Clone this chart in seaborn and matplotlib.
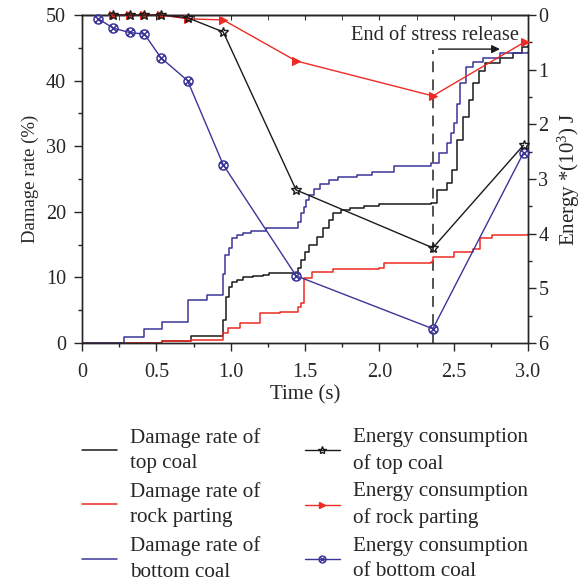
import numpy as np
import pandas as pd
import matplotlib
matplotlib.use("Agg")
import matplotlib.pyplot as plt
import seaborn as sns
from matplotlib.path import Path
from matplotlib.lines import Line2D

# ---------------- data ----------------
# damage rate step curves (time s, damage %)
top_t = [0, 0.54, 0.73, 0.95, 0.97, 0.99, 1.01, 1.04, 1.08, 1.15, 1.22, 1.26, 1.45, 1.47, 1.50, 1.53,
         1.58, 1.62, 1.66, 1.69, 1.74, 1.80, 1.90, 2.00, 2.35, 2.39, 2.455, 2.49, 2.52, 2.56, 2.60,
         2.63, 2.67, 2.71, 2.81, 2.90, 2.96, 3.0]
top_d = [0, 0.3, 1.0, 3.5, 7.0, 8.5, 9.3, 9.6, 10.0, 10.2, 10.4, 10.7, 11.5, 12.7, 13.8, 15.0,
         16.2, 17.5, 18.8, 19.8, 20.3, 20.6, 20.9, 21.2, 21.3, 23.3, 24.4, 26.4, 31.0, 34.5, 37.0,
         39.6, 41.5, 42.7, 43.4, 44.2, 45.1, 45.3]
rock_t = [0, 0.54, 0.73, 0.95, 0.98, 1.06, 1.20, 1.33, 1.45, 1.47, 1.49, 1.55, 1.69, 2.00, 2.03,
          2.35, 2.36, 2.50, 2.63, 2.68, 2.76, 3.0]
rock_d = [0, 0.3, 0.45, 1.5, 2.3, 3.0, 4.5, 4.7, 5.5, 6.1, 9.9, 10.8, 11.3, 11.4, 12.2,
          12.3, 13.1, 13.9, 14.3, 16.0, 16.5, 16.6]
bottom_t = [0, 0.28, 0.42, 0.54, 0.71, 0.84, 0.95, 0.96, 0.99, 1.01, 1.04, 1.08, 1.14, 1.24, 1.45,
            1.47, 1.49, 1.51, 1.53, 1.56, 1.60, 1.66, 1.72, 1.85, 1.95, 2.10, 2.35, 2.40, 2.455,
            2.48, 2.50, 2.52, 2.54, 2.58, 2.63, 2.70, 2.81, 3.0]
bottom_d = [0, 0.9, 2.1, 3.2, 6.5, 7.3, 10.5, 13.4, 14.5, 16.0, 16.5, 16.8, 17.0, 17.5, 18.5,
            19.8, 20.8, 21.8, 22.6, 23.5, 24.3, 24.8, 25.3, 25.6, 26.0, 27.0, 27.4, 29.0, 30.5,
            32.0, 33.5, 36.5, 39.6, 42.0, 42.8, 43.5, 44.2, 44.3]

# energy consumption (time s, energy 10^3 J)
e_top_t = [0.21, 0.32, 0.42, 0.53, 0.71, 0.95, 1.44, 2.36, 2.97]
e_top = [0.0, 0.0, 0.0, 0.0, 0.05, 0.31, 3.20, 4.26, 2.38]
e_rock_t = [0.21, 0.32, 0.42, 0.53, 0.71, 0.95, 1.44, 2.36, 2.98]
e_rock = [0.0, 0.0, 0.0, 0.0, 0.07, 0.09, 0.84, 1.48, 0.49]
e_bottom_t = [0.11, 0.21, 0.32, 0.42, 0.53, 0.71, 0.95, 1.44, 2.36, 2.97]
e_bottom = [0.07, 0.24, 0.32, 0.35, 0.78, 1.20, 2.74, 4.77, 5.74, 2.52]

labels = ["Damage rate of\ntop coal", "Damage rate of\nrock parting", "Damage rate of\nbottom coal",
          "Energy consumption\nof top coal", "Energy consumption\nof rock parting",
          "Energy consumption\nof bottom coal"]

# ---------------- style ----------------
sns.set_style("ticks")
plt.rcParams["font.family"] = ["Liberation Serif", "DejaVu Serif"]
plt.rcParams["mathtext.default"] = "regular"
plt.rcParams["axes.linewidth"] = 1.0

BLACK = "#1a1a1a"
RED = "#ee2b24"
BLUE = "#3b3598"

# circled-x marker
circ = Path.unit_circle()
cross = Path([(-0.7, -0.7), (0.7, 0.7), (-0.7, 0.7), (0.7, -0.7)],
             [Path.MOVETO, Path.LINETO, Path.MOVETO, Path.LINETO])
otimes = Path.make_compound_path(circ, cross)

fig = plt.figure(figsize=(5.87, 5.87), dpi=100)
ax = fig.add_axes([82 / 587, 1 - 343 / 587, 446 / 587, 328 / 587])

sns.lineplot(x=top_t, y=top_d, drawstyle="steps-post", color=BLACK, lw=1.1, ax=ax, estimator=None, sort=False)
sns.lineplot(x=rock_t, y=rock_d, drawstyle="steps-post", color=RED, lw=1.1, ax=ax, estimator=None, sort=False)
sns.lineplot(x=bottom_t, y=bottom_d, drawstyle="steps-post", color=BLUE, lw=1.1, ax=ax, estimator=None, sort=False)

TICK_FS = 14.5
ax.set_xlim(0, 3.0)
ax.set_ylim(0, 50)
ax.set_xticks(np.arange(0, 3.01, 0.5))
ax.set_xticklabels(["0", "0.5", "1.0", "1.5", "2.0", "2.5", "3.0"])
ax.set_xticks(np.arange(0.25, 3.0, 0.5), minor=True)
ax.set_yticks(np.arange(0, 51, 10))
ax.set_yticks(np.arange(5, 50, 10), minor=True)
ax.tick_params(axis="both", which="major", direction="out", length=5.5, width=1.0, labelsize=TICK_FS)
ax.tick_params(axis="x", which="major", pad=9)
ax.tick_params(axis="y", which="major", pad=6)
ax.tick_params(axis="both", which="minor", direction="out", length=3, width=1.0)
ax.set_xlabel("Time (s)", fontsize=15, labelpad=2)
ax.set_ylabel("Damage rate (%)", fontsize=13.5, labelpad=5)

# top spine ticks (inward)
secx = ax.secondary_xaxis("top")
secx.set_xticks(np.arange(0, 3.01, 0.5))
secx.set_xticks(np.arange(0.25, 3.0, 0.5), minor=True)
secx.tick_params(which="both", direction="in", length=3.5, labeltop=False)

# dashed line and annotation
ax.vlines(2.36, 0, 44.7, colors="#444444", linestyles=(0, (6, 4)), lw=1.3, zorder=1)
ax.annotate("", xy=(2.83, 44.8), xytext=(2.38, 44.8),
            arrowprops=dict(arrowstyle="-|>", color=BLACK, lw=1.0, mutation_scale=12))
ax.text(2.94, 46.9, "End of stress release", ha="right", va="center", fontsize=14.8)

# energy axis
ax2 = ax.twinx()
sns.lineplot(x=e_top_t, y=e_top, color=BLACK, lw=1.0, marker="*", ms=7.5, mfc="none", mec=BLACK,
             mew=1.0, ax=ax2, estimator=None, sort=False, zorder=4)
sns.lineplot(x=e_rock_t, y=e_rock, color=RED, lw=1.0, marker=">", ms=6, mfc=RED, mec=RED,
             ax=ax2, estimator=None, sort=False, zorder=3)
sns.lineplot(x=e_bottom_t, y=e_bottom, color=BLUE, lw=1.0, marker=otimes, ms=6.5, mfc="none", mec=BLUE,
             mew=1.1, ax=ax2, estimator=None, sort=False, zorder=3)
ax2.set_ylim(6, 0)
ax2.set_xlim(0, 3.0)
ax2.set_yticks(np.arange(0, 7, 1))
ax2.set_yticks(np.arange(0.5, 6, 1), minor=True)
ax2.tick_params(axis="y", which="major", direction="out", length=5.5, width=1.0, labelsize=TICK_FS, pad=2)
ax2.tick_params(axis="y", which="minor", direction="out", length=3, width=1.0)
ax2.set_ylabel("Energy *(10$^{3}$) J", fontsize=15, labelpad=5)
for ln in ax2.lines:
    ln.set_clip_on(False)

# legend
handles = [
    Line2D([], [], color=BLACK, lw=1.1),
    Line2D([], [], color=RED, lw=1.1),
    Line2D([], [], color=BLUE, lw=1.1),
    Line2D([], [], color=BLACK, lw=1.0, marker="*", ms=6, mfc="none", mec=BLACK),
    Line2D([], [], color=RED, lw=1.0, marker=">", ms=5, mfc=RED, mec=RED),
    Line2D([], [], color=BLUE, lw=1.0, marker=otimes, ms=5, mfc="none", mec=BLUE),
]
leg = fig.legend(handles, labels, ncol=2, loc="upper left", bbox_to_anchor=(82 / 587, 1 - 428 / 587),
                 frameon=False, fontsize=15.2, handlelength=1.66, handletextpad=0.62, columnspacing=2.1,
                 labelspacing=0.42, borderaxespad=0, borderpad=0)
for t in leg.get_texts():
    t.set_linespacing(1.45)

fig.savefig("out.png", dpi=100)
